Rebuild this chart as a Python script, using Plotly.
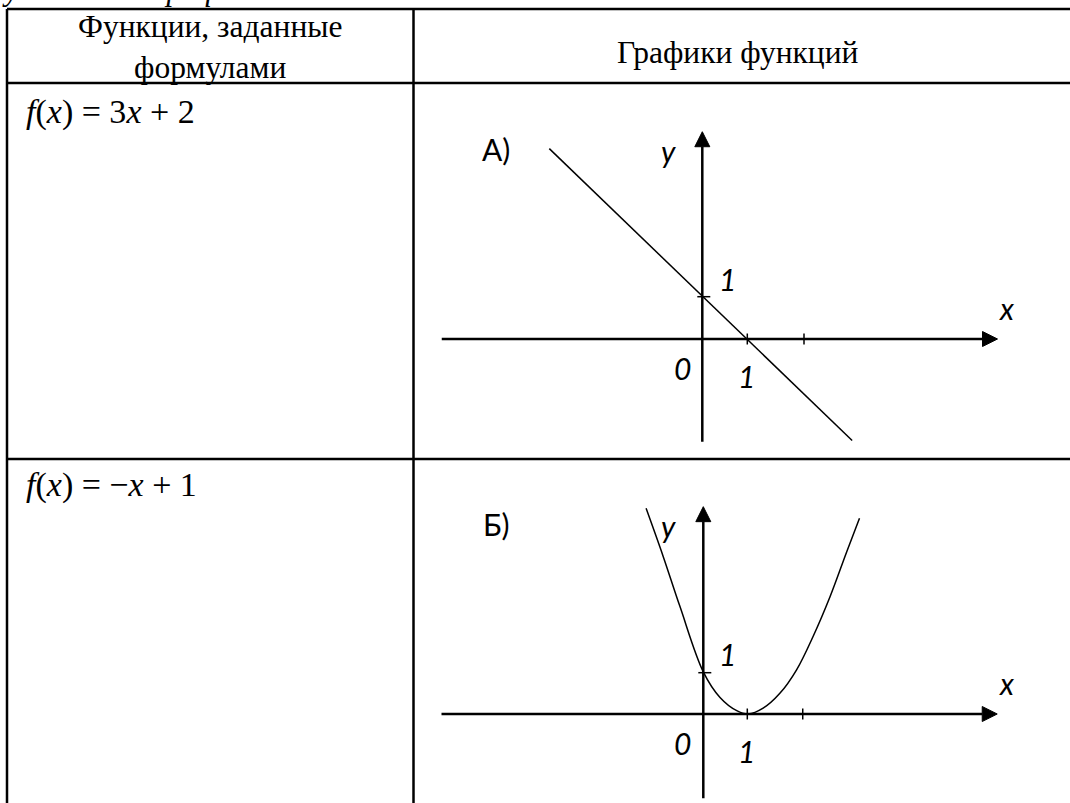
import plotly.graph_objects as go

W, H = 1070, 803

# table texts
header_left = "Функции, заданные<br>формулами"
header_right = "Графики функций"
formulas = ["<i>f</i>(<i>x</i>)&nbsp;=&nbsp;3<i>x</i>&nbsp;+&nbsp;2", "<i>f</i>(<i>x</i>)&nbsp;=&nbsp;−<i>x</i>&nbsp;+&nbsp;1"]
graph_names = ["А)", "Б)"]

# graph A: straight line, endpoints
line_a_x = [-3.40, 3.33]
line_a_y = [4.50, -2.40]

# graph Б: parabola
parab_x = [-1.30, -0.91, -0.53, 0.0, 0.38, 0.76, 1.02, 1.36, 1.74, 2.12, 2.50, 2.88, 3.26, 3.55]
parab_y = [4.98, 3.81, 2.60, 1.02, 0.40, 0.08, 0.0, 0.14, 0.50, 1.07, 1.89, 2.84, 3.93, 4.74]

# axis marks in graph units
tick_x = [1, 2.26]
tick_y = [1]


def px(x, y):
    return x / W, 1 - y / H


fig = go.Figure()

# each graph: origin in pixels, pixel size of one unit, axes extents
graphs = [
    dict(ox=702.3, oy=339, ux=45, uy=42.3, xmin=-5.79, xtip=6.56, ymin=-2.43, ytip=4.90,
         top=125, bottom=450, curve_x=line_a_x, curve_y=line_a_y, shape="linear"),
    dict(ox=703.3, oy=714, ux=44, uy=41.3, xmin=-5.95, xtip=6.68, ymin=-2.04, ytip=5.02,
         top=495, bottom=803, curve_x=parab_x, curve_y=parab_y, shape="spline"),
]
left, right = 430, 1010
black = "#000000"

for i, g in enumerate(graphs):
    n = "" if i == 0 else str(i + 1)
    xa, ya = "x" + n, "y" + n
    ux, uy = g["ux"], g["uy"]
    fig.update_layout({
        "xaxis" + n: dict(domain=[left / W, right / W], range=[(left - g["ox"]) / ux, (right - g["ox"]) / ux],
                          visible=False, fixedrange=True),
        "yaxis" + n: dict(domain=[1 - g["bottom"] / H, 1 - g["top"] / H],
                          range=[(g["oy"] - g["bottom"]) / uy, (g["oy"] - g["top"]) / uy],
                          visible=False, fixedrange=True),
    })
    ahx, ahw = 15 / ux, 7.5 / uy   # arrow length / half width on x axis
    ahy, ahv = 15 / uy, 7.5 / ux
    # axes
    fig.add_scatter(x=[g["xmin"], g["xtip"] - ahx], y=[0, 0], mode="lines", line=dict(color=black, width=2.5),
                    xaxis=xa, yaxis=ya, hoverinfo="skip")
    fig.add_scatter(x=[0, 0], y=[g["ymin"], g["ytip"] - ahy], mode="lines", line=dict(color=black, width=2.5),
                    xaxis=xa, yaxis=ya, hoverinfo="skip")
    # arrow heads
    fig.add_scatter(x=[g["xtip"], g["xtip"] - ahx, g["xtip"] - ahx, g["xtip"]], y=[0, ahw, -ahw, 0],
                    mode="lines", fill="toself", fillcolor=black, line=dict(color=black, width=1),
                    xaxis=xa, yaxis=ya, hoverinfo="skip")
    fig.add_scatter(x=[0, ahv, -ahv, 0], y=[g["ytip"], g["ytip"] - ahy, g["ytip"] - ahy, g["ytip"]],
                    mode="lines", fill="toself", fillcolor=black, line=dict(color=black, width=1),
                    xaxis=xa, yaxis=ya, hoverinfo="skip")
    # ticks
    for t in tick_x:
        fig.add_scatter(x=[t, t], y=[-5.5 / uy, 5.5 / uy], mode="lines", line=dict(color=black, width=1.5),
                        xaxis=xa, yaxis=ya, hoverinfo="skip")
    for t in tick_y:
        fig.add_scatter(x=[-5 / ux, 8 / ux], y=[t, t], mode="lines", line=dict(color=black, width=1.5),
                        xaxis=xa, yaxis=ya, hoverinfo="skip")
    # curve
    fig.add_scatter(x=g["curve_x"], y=g["curve_y"], mode="lines",
                    line=dict(color=black, width=1.5, shape=g["shape"], smoothing=1.0),
                    xaxis=xa, yaxis=ya, hoverinfo="skip")

    # labels around the axes
    lab_font = dict(family="Lato, Open Sans, sans-serif", size=30, color=black)
    oy = g["oy"]
    labels = [
        (graph_names[i], 496, oy - 190, False),
        ("y", 668, oy - 188, True),
        ("1", 727, oy - 60, True),
        ("x", 1006, oy - 31, True),
        ("0", 682, oy + 29, True),
        ("1", 746, oy + 37, True),
    ]
    for text, lx, ly, it in labels:
        x0, y0 = px(lx, ly)
        fig.add_annotation(x=x0, y=y0, xref="paper", yref="paper", text=f"<i>{text}</i>" if it else text,
                           showarrow=False, font=lab_font, xanchor="center", yanchor="middle")

# table grid
grid = dict(color=black, width=2.5)
table_left, col_x = 7, 413.5
rows_y = [9, 83, 459]
for yy in rows_y:
    fig.add_shape(type="line", xref="paper", yref="paper", x0=table_left / W, x1=1.01,
                  y0=1 - yy / H, y1=1 - yy / H, line=grid)
for xx in [table_left, col_x]:
    fig.add_shape(type="line", xref="paper", yref="paper", x0=xx / W, x1=xx / W,
                  y0=1 - rows_y[0] / H, y1=-0.01, line=grid)

serif = dict(family="Liberation Serif, Times New Roman, serif", size=31.5, color=black)
x0, y0 = px(210, 47)
fig.add_annotation(x=x0, y=y0, xref="paper", yref="paper", text=header_left, showarrow=False,
                   font=serif, align="center", xanchor="center", yanchor="middle")
x0, y0 = px(738, 52)
fig.add_annotation(x=x0, y=y0, xref="paper", yref="paper", text=header_right, showarrow=False,
                   font=serif, xanchor="center", yanchor="middle")
formula_font = dict(serif, size=34)
for f_text, fy in zip(formulas, [112, 485]):
    x0, y0 = px(24, fy)
    fig.add_annotation(x=x0, y=y0, xref="paper", yref="paper", text=f_text, showarrow=False,
                       font=formula_font, xanchor="left", yanchor="middle")

# the line above the table, cut off at the top edge
x0, y0 = px(0, -10)
fig.add_annotation(x=x0, y=y0, xref="paper", yref="paper", text="<i>укажите&nbsp;&nbsp;&nbsp;графики</i>",
                   showarrow=False, font=serif, xanchor="left", yanchor="middle")

fig.update_layout(width=W, height=H, margin=dict(l=0, r=0, t=0, b=0),
                  paper_bgcolor="white", plot_bgcolor="white", showlegend=False)

fig.write_html("out.html", config={"displayModeBar": False},
               post_script="document.body.style.margin = '0'; document.body.style.overflow = 'hidden';")
